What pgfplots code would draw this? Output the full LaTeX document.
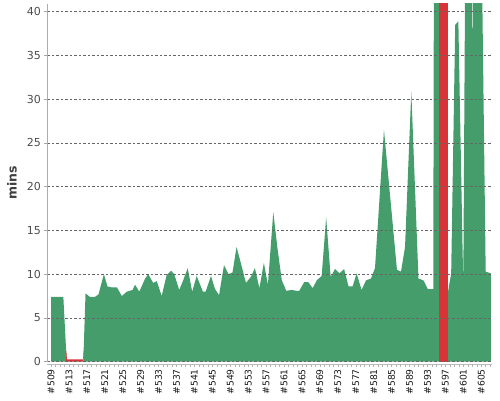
\documentclass[border=0pt]{standalone}
\usepackage{fontspec}
\setmainfont{DejaVu Sans}
\usepackage{pgfplots}
\pgfplotsset{compat=1.18}
\definecolor{okgreen}{RGB}{69,157,108}
\definecolor{failred}{RGB}{216,51,55}
\begin{document}
\begin{tikzpicture}
\path[use as bounding box] (-47.3pt,-38.3pt) rectangle (452.7pt,361.7pt);
\begin{axis}[
  at={(0,0)}, anchor=south west,
  scale only axis, width=444.2pt, height=357.7pt,
  xmin=-0.83, xmax=98.3, ymin=0, ymax=40.88,
  axis on top,
  axis x line*=bottom, axis y line*=left,
  x axis line style={draw=gray!55, line width=0.5pt, yshift=-2.5pt},
  y axis line style={draw=gray!65, line width=0.8pt},
  tick align=outside,
  major tick length=3pt, minor tick length=3pt,
  xtick={0,4,...,96},
  xticklabels={\#509,\#513,\#517,\#521,\#525,\#529,\#533,\#537,\#541,\#545,\#549,\#553,\#557,\#561,\#565,\#569,\#573,\#577,\#581,\#585,\#589,\#593,\#597,\#601,\#605},
  minor xtick={0,1,...,98},
  xtick style={draw=gray!60, line width=0.4pt, yshift=-2.5pt},
  ytick={0,5,...,40},
  ytick style={draw=gray!70, line width=0.5pt},
  ymajorgrids,
  major grid style={draw=black!60, dash pattern=on 2.5pt off 2pt, line width=0.45pt},
  /pgf/number format/assume math mode=true,
  yticklabel style={font=\fontsize{11}{11}\selectfont, text=black!70},
  xticklabel style={rotate=90, anchor=east, font=\fontsize{9.2}{9.2}\selectfont, text=black!90, xshift=-1pt},
  ylabel={mins},
  every axis y label/.style={at={(axis description cs:0,0.5)}, xshift=-35.3pt, rotate=90, anchor=center, font=\fontsize{12.5}{12.5}\selectfont\bfseries, text=black!75},
]
\addplot[draw=none, fill=okgreen] coordinates {
(0,7.4)(2.75,7.4)(3.5,0)(7.2,0)(7.7,7.8)(8.7,7.4)(9.8,7.4)(10.6,7.7)(11.8,10.0)(12.6,8.6)(13.5,8.5)(14.7,8.5)(15.8,7.5)(16.9,8.0)(18.2,8.2)(18.75,8.8)(19.7,8.0)(21,9.5)(21.7,10.0)(22.8,9.0)(23.6,9.2)(24.7,7.5)(25.8,9.9)(26.8,10.4)(27.5,10.0)(28.6,8.2)(29.5,9.3)(30.5,10.7)(31.5,8.0)(32.5,9.8)(33.9,8.0)(34.5,8.0)(35.7,9.8)(36.6,8.3)(37.5,7.6)(38.6,11.05)(39.6,10.0)(40.5,10.2)(41.4,13.1)(42.4,11.2)(43.5,9.0)(44.6,9.7)(45.5,10.7)(46.5,8.4)(47.5,11.3)(48.4,8.8)(49.6,17.1)(50.5,13.1)(51.5,9.3)(52.5,8.1)(53.7,8.2)(54.8,8.1)(55.4,8.1)(56.5,9.1)(57.4,9.1)(58.4,8.4)(59.3,9.3)(60.4,9.8)(61.4,16.5)(62.4,9.7)(63.4,10.6)(64.4,10.1)(65.4,10.6)(66.4,8.6)(67.3,8.6)(68.2,10.1)(69.3,8.2)(70.3,9.3)(71.4,9.5)(72.3,10.7)(74.3,26.5)(77.2,10.5)(78.1,10.3)(79,13.1)(80.4,30.9)(82,9.5)(83.1,9.3)(84.1,8.3)(85.3,8.3)(85.5,60)(86.6,60)(86.6,0)(88.6,0)(88.6,8.0)(89.3,10.1)(90.2,38.5)(90.9,38.9)(92,8.6)(92.6,60)(93.85,60)(94.05,31)(94.3,60)(95.8,60)(97,10.3)(98.15,10.1)
} \closedcycle;
\addplot[draw=none, fill=failred] coordinates {
(3.35,1.2)(3.5,0)(7.2,0)(7.35,1.2)(7.28,1.2)(7.15,0.28)(3.55,0.28)(3.42,1.2)
} \closedcycle;
\addplot[draw=none, fill=failred] coordinates {
(86.6,60)(88.6,60)
} \closedcycle;
\end{axis}
\end{tikzpicture}
\end{document}
